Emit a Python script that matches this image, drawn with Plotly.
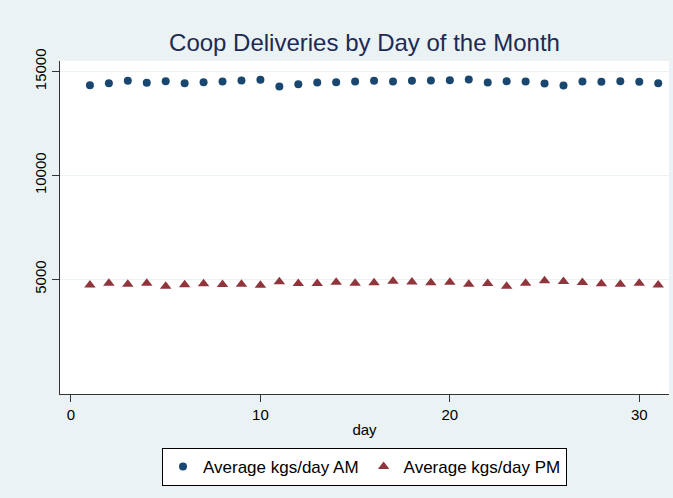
import plotly.graph_objects as go

days = list(range(1, 32))
am_kgs = [14342, 14440, 14554, 14458, 14534, 14440, 14486, 14520, 14568, 14602,
          14280, 14390, 14472, 14486, 14520, 14554, 14520, 14554, 14568, 14584,
          14616, 14472, 14534, 14520, 14424, 14328, 14520, 14506, 14534, 14506, 14440]
pm_kgs = [4726, 4813, 4760, 4813, 4669, 4736, 4784, 4750, 4765, 4717,
          4880, 4798, 4798, 4861, 4813, 4832, 4909, 4870, 4832, 4861,
          4765, 4798, 4664, 4813, 4928, 4894, 4846, 4784, 4765, 4813, 4726]
y_ticks = [5000, 10000, 15000]
y_tick_labels = ["5000", "10000", "15000"]
x_ticks = [0, 10, 20, 30]

BG = "#EAF2F3"
fig = go.Figure()
fig.add_trace(go.Scatter(x=days, y=am_kgs, mode="markers", name="Average kgs/day AM",
                         marker=dict(symbol="circle", size=8, color="#1A476F")))
fig.add_trace(go.Scatter(x=days, y=pm_kgs, mode="markers", name="Average kgs/day PM",
                         marker=dict(symbol="triangle-up", size=10, color="#90353B")))

fig.update_layout(
    width=673, height=498,
    margin=dict(l=60, r=4, t=61, b=104, autoexpand=False),
    paper_bgcolor=BG, plot_bgcolor="white",
    font=dict(family="Liberation Sans, Arial, sans-serif", color="black", size=15),
    title=dict(text="Coop Deliveries by Day of the Month", x=0.5, xref="paper",
               xanchor="center", y=0.915, yref="container", yanchor="middle",
               font=dict(size=24, color="#1E2A55")),
    showlegend=True,
    legend=dict(orientation="h", xanchor="center", x=0.5, yanchor="top", y=-0.162,
                bgcolor="white", bordercolor="black", borderwidth=1,
                font=dict(size=17), itemwidth=30),
    xaxis=dict(range=[-0.58, 31.57], tickvals=x_ticks, showgrid=False, zeroline=False,
               showline=True, linecolor="#333", linewidth=1, ticks="outside",
               ticklen=7, tickcolor="#333", automargin=False,
               title=dict(text="day", standoff=2, font=dict(size=15))),
    yaxis=dict(range=[-518, 15509], tickvals=y_ticks, ticktext=y_tick_labels,
               showgrid=True, gridcolor=BG, automargin=False,
               gridwidth=1, zeroline=False, showline=True, linecolor="#333", linewidth=1,
               ticks="outside", ticklen=7, tickcolor="#333", tickangle=-90,
               tickfont=dict(size=15)),
)

fig.write_html("out.html", config={"displayModeBar": False},
               post_script="document.body.style.margin='0';document.body.style.background='#EAF2F3';")
